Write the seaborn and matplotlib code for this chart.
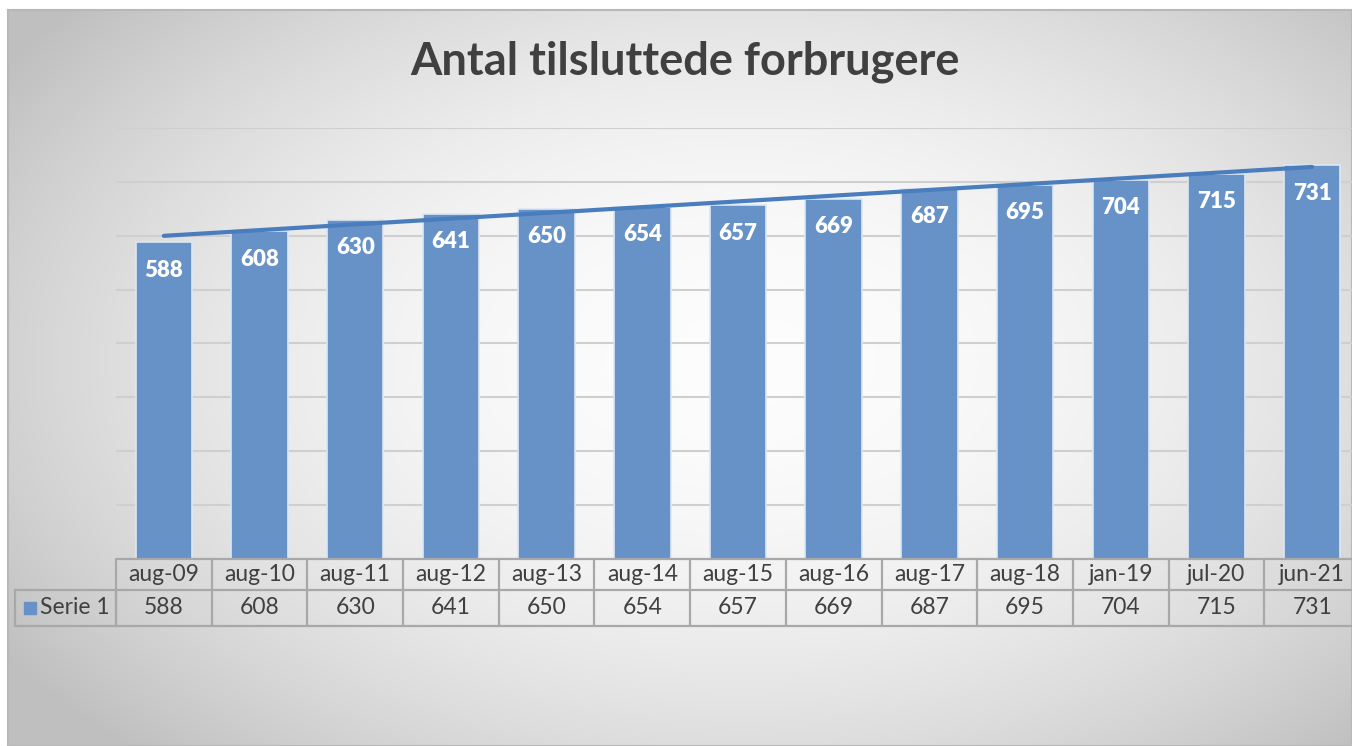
import numpy as np
import matplotlib
matplotlib.use('Agg')
import matplotlib.pyplot as plt
import matplotlib.transforms as mtransforms
import seaborn as sns

# Chart data
categories = ['aug-09', 'aug-10', 'aug-11', 'aug-12', 'aug-13', 'aug-14', 'aug-15',
              'aug-16', 'aug-17', 'aug-18', 'jan-19', 'jul-20', 'jun-21']
values = [588, 608, 630, 641, 650, 654, 657, 669, 687, 695, 704, 715, 731]
series_name = 'Serie 1'
title = 'Antal tilsluttede forbrugere'

sns.set_style('white')
plt.rcParams['font.family'] = ['Lato', 'DejaVu Sans']

W, H = 1352, 746
fig = plt.figure(figsize=(W / 100, H / 100), dpi=100)
fig.patch.set_facecolor('white')

# Background: radial grey gradient of the chart area
bg = fig.add_axes([8 / W, 0, 1 - 8 / W, (H - 10) / H], zorder=-5)
yy, xx = np.mgrid[10:H, 8:W]
t = np.sqrt(((xx - 740) / 880.0) ** 2 + ((yy - 360) / 540.0) ** 2)
t = np.clip(t, 0, 1) ** 2.0
shade = 0.99 - (0.99 - 0.75) * t
bg.imshow(np.dstack([shade] * 3), aspect='auto', extent=[0, 1, 0, 1], origin='upper')
bg.set_xticks([])
bg.set_yticks([])
for sp in bg.spines.values():
    sp.set_color('#b8b8b8')
    sp.set_linewidth(1.5)

# Plot area
left_px, right_px, top_px, base_px = 116, 1360, 128, 559
ax = fig.add_axes([left_px / W, (H - base_px) / H, (right_px - left_px) / W, (base_px - top_px) / H])
ax.set_facecolor('none')

bar_color = '#6692c8'
sns.barplot(x=categories, y=values, ax=ax, color=bar_color, width=0.59,
            edgecolor='#dde7f3', linewidth=1.2, saturation=1, zorder=3)
ax.set_xlim(-0.5, len(categories) - 0.5)
ax.set_ylim(0, 800)
ax.set_yticks(range(0, 801, 100))
ax.yaxis.grid(True, color='#cfcfcf', linewidth=1.5, zorder=0)
ax.set_axisbelow(True)
ax.tick_params(left=False, bottom=False, labelleft=False, labelbottom=False)
ax.set_xlabel('')
ax.set_ylabel('')
sns.despine(ax=ax, left=True, bottom=True)

# Linear trendline
x = np.arange(len(values))
slope, intercept = np.polyfit(x, values, 1)
ax.plot([x[0], x[-1]], [intercept + slope * x[0], intercept + slope * x[-1]],
        color='#4a7dbd', linewidth=3, solid_capstyle='round', zorder=4)

# Data labels inside the bars
for i, v in enumerate(values):
    ax.annotate(str(v), (i, v), xytext=(0, -28), textcoords='offset pixels',
                ha='center', va='center', color='white', fontsize=16, fontweight='heavy', zorder=5)

# Title
fig.text(685 / W, 1 - 62 / H, title, ha='center', va='center', fontsize=32.5,
         fontweight='bold', color='#404040')

# Data table under the plot
h_ax = base_px - top_px
row1 = -(590 - base_px) / h_ax
row2 = -(626 - base_px) / h_ax
trans = mtransforms.blended_transform_factory(ax.transData, ax.transAxes)
line_kw = dict(color='#a8a8a8', linewidth=1.6, clip_on=False, zorder=6)
n = len(categories)
for yv in [0, row1, row2]:
    ax.plot([-0.5, n - 0.5], [yv, yv], transform=trans, **line_kw)
for i in range(n + 1):
    ax.plot([i - 0.5, i - 0.5], [0, row2], transform=trans, **line_kw)
head_x = (15 - left_px) / (right_px - left_px)
ax.plot([head_x, 0, 0, head_x, head_x], [row1, row1, row2, row2, row1],
        transform=ax.transAxes, **line_kw)

for i, (c, v) in enumerate(zip(categories, values)):
    ax.text(i, row1 / 2, c, transform=trans, ha='center', va='center',
            fontsize=16.5, color='#404040', clip_on=False)
    ax.text(i, (row1 + row2) / 2, str(v), transform=trans, ha='center', va='center',
            fontsize=16.5, color='#404040', clip_on=False)

mark_x = (30 - left_px) / (right_px - left_px)
ax.plot([mark_x], [(row1 + row2) / 2], marker='s', markersize=8.5, color=bar_color,
        transform=ax.transAxes, clip_on=False, zorder=6)
ax.text((40 - left_px) / (right_px - left_px), (row1 + row2) / 2, series_name,
        transform=ax.transAxes, ha='left', va='center', fontsize=16.5, color='#404040')

fig.savefig('out.png', dpi=100)
